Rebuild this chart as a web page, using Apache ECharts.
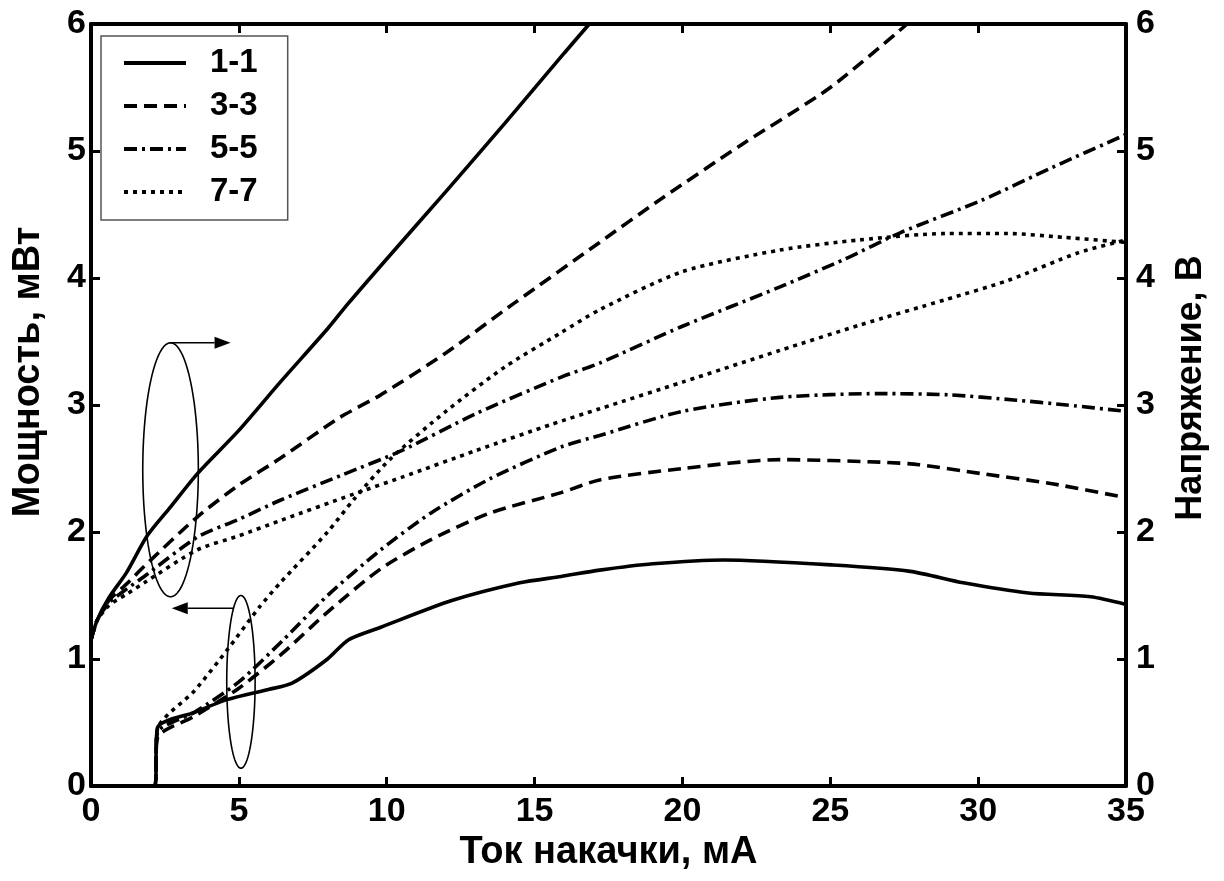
<!DOCTYPE html>
<html>
<head>
<meta charset="utf-8">
<title>Мощность и напряжение</title>
<script src="https://cdn.jsdelivr.net/npm/echarts@6/dist/echarts.min.js"></script>
<style>
  html, body { margin: 0; padding: 0; background: #fff; }
  #chart { width: 1224px; height: 881px; }
</style>
</head>
<body>
<div id="chart"></div>
<script>
const curveNames = ['1-1', '3-3', '5-5', '7-7'];

// Напряжение, В (right axis), [ток мА, В]
const voltage11 = [[0,1.15],[0.2,1.3],[0.6,1.48],[1.2,1.68],[1.9,1.97],[2.7,2.2],[3.6,2.46],[5,2.8],[6.4,3.18],[8,3.6],[8.7,3.8],[10,4.15],[12,4.68],[14,5.22],[16,5.77],[16.85,6.0]];
const voltage33 = [[0,1.15],[0.2,1.3],[0.6,1.46],[1.2,1.59],[1.8,1.73],[3.6,2.12],[5,2.37],[6.4,2.58],[8.4,2.9],[9.8,3.08],[12,3.41],[14.3,3.8],[17.2,4.28],[19.2,4.61],[22,5.05],[25,5.5],[27.6,6.0]];
const voltage55 = [[0,1.15],[0.2,1.3],[0.6,1.44],[1.2,1.55],[1.8,1.65],[3.6,1.96],[5,2.1],[6.4,2.25],[8.5,2.45],[10.5,2.64],[13,2.93],[15.9,3.22],[17.2,3.33],[20,3.62],[23.3,3.93],[25.5,4.15],[27.4,4.36],[30.1,4.61],[32.5,4.87],[35,5.13]];
const voltage77 = [[0,1.15],[0.2,1.3],[0.6,1.42],[1.2,1.51],[1.8,1.6],[3.6,1.86],[5,1.97],[6.4,2.09],[8.9,2.3],[10.5,2.43],[13,2.64],[15.6,2.85],[17.2,2.97],[20,3.18],[23.3,3.43],[26,3.63],[28.9,3.83],[31,3.98],[33.4,4.2],[35,4.3]];

// Мощность, мВт (left axis), [ток мА, мВт]
const power11 = [[0,0],[2.15,0],[2.25,0.46],[3.5,0.58],[4.6,0.68],[6,0.76],[6.8,0.81],[8,1.0],[8.7,1.15],[9.8,1.25],[12.2,1.46],[14.5,1.6],[15.9,1.65],[17.2,1.7],[19,1.75],[21.4,1.78],[25.1,1.74],[27.7,1.69],[29.5,1.6],[31.7,1.52],[33.8,1.49],[35,1.43]];
const power33 = [[0,0],[2.15,0],[2.25,0.38],[3.5,0.55],[5,0.77],[6.5,1.05],[8,1.37],[9.8,1.71],[11.5,1.94],[13.5,2.15],[15.9,2.31],[17.2,2.41],[20,2.5],[23.3,2.57],[26.7,2.55],[28,2.53],[30.1,2.46],[32.5,2.38],[35,2.27]];
const power55 = [[0,0],[2.15,0],[2.25,0.42],[3.5,0.58],[5,0.82],[6.5,1.15],[8,1.5],[9.8,1.86],[11.5,2.15],[13.5,2.42],[15.9,2.67],[17.2,2.76],[20,2.95],[23.3,3.06],[26.7,3.09],[29,3.08],[31.2,3.04],[33,3.0],[35,2.95]];
const power77 = [[0,0],[2.15,0],[2.25,0.45],[3.5,0.75],[4.6,1.07],[5.7,1.41],[6.4,1.6],[8,2.0],[8.9,2.26],[10.1,2.57],[12,2.95],[14,3.3],[15.9,3.57],[17.2,3.75],[20,4.05],[23.3,4.22],[26,4.3],[28.9,4.35],[31,4.35],[32.9,4.32],[35,4.28]];

const xRange = {min: 0, max: 35, interval: 5};
const yRange = {min: 0, max: 6, interval: 1};

// ellipses + arrows marking which group belongs to which axis (data units)
const ellipses = [
    {cx: 2.69, cy: 2.49, rx: 0.94, ry: 1.0},
    {cx: 5.07, cy: 0.82, rx: 0.48, ry: 0.68},
];
const arrows = [
    {from: [2.69, 3.49], to: [4.72, 3.49]},
    {from: [4.82, 1.40], to: [2.73, 1.40]},
];

const FONT = '"Liberation Sans", Arial, sans-serif';
const dashes = {'1-1': 'solid', '3-3': [13, 7], '5-5': [13, 5, 3, 5], '7-7': [4, 5]};

function makeSeries (name, data, yAxisIndex) {
    return {
        name,
        type: 'line',
        data,
        yAxisIndex,
        symbol: 'none',
        smooth: 0.25,
        silent: true,
        lineStyle: {color: '#000', width: 3.6, type: dashes[name], cap: 'butt'},
        itemStyle: {color: '#000'},
    };
}

const labelStyle = {fontSize: 34, fontWeight: 'bold', fontFamily: FONT, color: '#000'};
const nameStyle = {fontWeight: 'bold', fontFamily: FONT, color: '#000'};
const lineBlack = {lineStyle: {color: '#000', width: 4}};
const tickIn = {inside: true, length: 9, lineStyle: {color: '#000', width: 3}};

const chart = echarts.init(document.getElementById('chart'));

chart.setOption({
    animation: false,
    backgroundColor: '#fff',
    grid: {left: 91, right: 98, top: 24, bottom: 95},
    legend: {
        data: curveNames,
        orient: 'vertical',
        left: 101,
        top: 36,
        padding: [9, 30, 10, 21],
        itemWidth: 62,
        itemHeight: 14,
        itemGap: 7,
        selectedMode: false,
        borderColor: '#555',
        borderWidth: 1.5,
        itemStyle: {opacity: 0},
        lineStyle: {width: 4},
        textStyle: {fontSize: 33, fontWeight: 'bold', fontFamily: FONT, color: '#000', lineHeight: 36, padding: [0, 0, 0, 19]},
    },
    xAxis: [
        {
            type: 'value', ...xRange, position: 'bottom',
            name: 'Ток накачки, мА', nameLocation: 'middle', nameGap: 46,
            nameTextStyle: {...nameStyle, fontSize: 38},
            axisLine: {onZero: false, ...lineBlack}, axisTick: tickIn,
            axisLabel: {...labelStyle, margin: 9}, splitLine: {show: false},
        },
        {
            type: 'value', ...xRange, position: 'top',
            axisLine: {onZero: false, ...lineBlack}, axisTick: tickIn,
            axisLabel: {show: false}, splitLine: {show: false},
        },
    ],
    yAxis: [
        {
            type: 'value', ...yRange, position: 'left',
            name: 'Мощность, мВт', nameLocation: 'middle', nameGap: 43,
            nameTextStyle: {...nameStyle, fontSize: 38, padding: [0, 0, 0, 66]},
            axisLine: {onZero: false, ...lineBlack}, axisTick: tickIn,
            axisLabel: {...labelStyle, margin: 5}, splitLine: {show: false},
        },
        {
            type: 'value', ...yRange, position: 'right',
            name: 'Напряжение, В', nameLocation: 'middle', nameGap: 47,
            nameTextStyle: {...nameStyle, fontSize: 36, padding: [0, 0, 0, 34]},
            axisLine: {onZero: false, ...lineBlack}, axisTick: tickIn,
            axisLabel: {...labelStyle, margin: 10}, splitLine: {show: false},
        },
    ],
    series: [
        makeSeries('1-1', voltage11, 1),
        makeSeries('3-3', voltage33, 1),
        makeSeries('5-5', voltage55, 1),
        makeSeries('7-7', voltage77, 1),
        makeSeries('1-1', power11, 0),
        makeSeries('3-3', power33, 0),
        makeSeries('5-5', power55, 0),
        makeSeries('7-7', power77, 0),
    ],
});

function drawAnnotations () {
    const toPx = (x, y) => chart.convertToPixel({xAxisIndex: 0, yAxisIndex: 0}, [x, y]);
    const elements = [];
    ellipses.forEach(e => {
        const points = [];
        for (let i = 0; i <= 90; i++) {
            const a = i / 90 * Math.PI * 2;
            points.push(toPx(e.cx + e.rx * Math.cos(a), e.cy + e.ry * Math.sin(a)));
        }
        elements.push({type: 'polyline', silent: true, shape: {points}, style: {stroke: '#000', lineWidth: 1.6}});
    });
    arrows.forEach(a => {
        const p0 = toPx(a.from[0], a.from[1]);
        const p1 = toPx(a.to[0], a.to[1]);
        const dir = Math.sign(p1[0] - p0[0]);
        const headLen = 16, headHalf = 6;
        elements.push({
            type: 'line', silent: true,
            shape: {x1: p0[0], y1: p0[1], x2: p1[0] - dir * headLen, y2: p1[1]},
            style: {stroke: '#000', lineWidth: 1.6},
        });
        elements.push({
            type: 'polygon', silent: true,
            shape: {points: [[p1[0], p1[1]], [p1[0] - dir * headLen, p1[1] - headHalf], [p1[0] - dir * headLen, p1[1] + headHalf]]},
            style: {fill: '#000'},
        });
    });
    chart.setOption({graphic: {elements}});
}

drawAnnotations();
</script>
</body>
</html>
